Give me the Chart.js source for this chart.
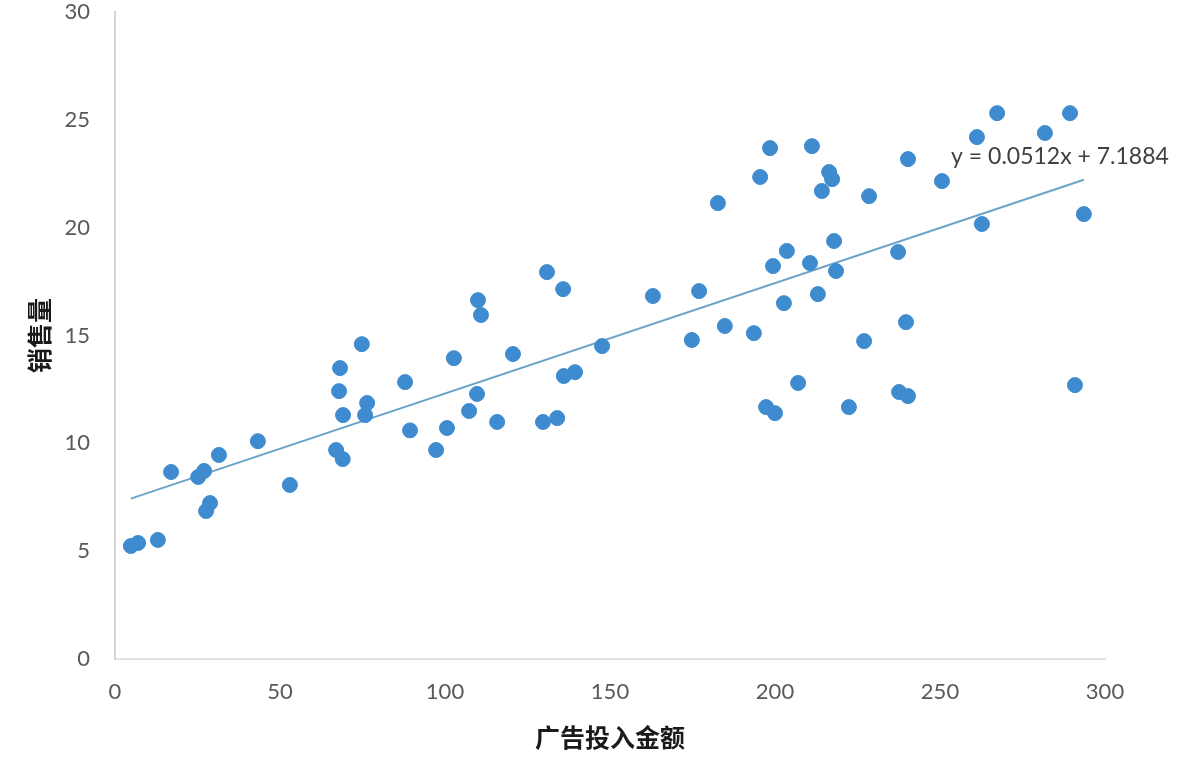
<!DOCTYPE html>
<html>
<head>
<meta charset="utf-8">
<script src="https://cdn.jsdelivr.net/npm/chart.js@4"></script>
<style>
  html, body { margin: 0; padding: 0; background: #fff; }
  #wrap { width: 1179px; height: 768px; }
</style>
</head>
<body>
<div id="wrap"><canvas id="chart" width="1179" height="768"></canvas></div>
<script>
// 广告投入金额 (x) and 销售量 (y)
const adSpend = [4.8, 7, 13, 17, 25.2, 27, 27.6, 28.8, 31.5, 43.3,
  53, 67, 69, 68.2, 67.9, 69.1, 74.8, 76.4, 75.8, 87.9,
  89.4, 97.3, 100.6, 102.7, 107.3, 109.7, 110, 110.9, 115.8, 120.6,
  129.7, 134, 130.9, 135.8, 136, 139.4, 147.6, 163, 177, 174.8,
  182.7, 184.8, 193.6, 195.5, 198.5, 197.3, 200, 199.4, 202.7, 203.6,
  207, 210.6, 211.2, 213, 214.2, 216.4, 217.3, 217.9, 218.5, 222.4,
  227, 228.5, 237.3, 237.6, 240.3, 239.7, 240.3, 250.6, 261.2, 262.7,
  267.3, 281.8, 289.4, 290.9, 293.6];
const sales = [5.24, 5.38, 5.52, 8.67, 8.44, 8.72, 6.86, 7.23, 9.46, 10.1,
  8.07, 9.69, 9.27, 13.49, 12.42, 11.31, 14.6, 11.87, 11.31, 12.84,
  10.6, 9.69, 10.71, 13.95, 11.5, 12.29, 16.64, 15.95, 10.99, 14.14,
  10.99, 11.17, 17.94, 17.15, 13.12, 13.3, 14.51, 16.83, 17.06, 14.79,
  21.14, 15.44, 15.11, 22.35, 23.69, 11.68, 11.4, 18.22, 16.5, 18.92,
  12.8, 18.36, 23.78, 16.92, 21.7, 22.58, 22.25, 19.38, 17.99, 11.68,
  14.74, 21.46, 18.87, 12.38, 12.19, 15.62, 23.18, 22.16, 24.2, 20.17,
  25.31, 24.39, 25.31, 12.7, 20.63];

// linear trendline as printed on the chart
const slope = 0.0512;
const intercept = 7.1884;
const trendLabel = 'y = 0.0512x + 7.1884';

const xTicks = [0, 50, 100, 150, 200, 250, 300];
const yTicks = [0, 5, 10, 15, 20, 25, 30];

const points = adSpend.map((x, i) => ({x: x, y: sales[i]}));
const xMin = Math.min(...adSpend);
const xMax = Math.max(...adSpend);
const trend = [xMin, xMax].map(x => ({x: x, y: slope * x + intercept}));

const tickFont = {family: 'Lato, "Open Sans", sans-serif', size: 22};
const titleFont = {family: '"Noto Sans CJK SC", sans-serif', size: 25, weight: 'bold'};

const trendLabelPlugin = {
  id: 'trendLabel',
  afterDatasetsDraw(chart) {
    const {ctx, scales} = chart;
    const end = trend[trend.length - 1];
    const px = scales.x.getPixelForValue(end.x);
    const py = scales.y.getPixelForValue(end.y);
    ctx.save();
    ctx.font = '23px Lato, "Open Sans", sans-serif';
    ctx.fillStyle = '#404040';
    ctx.textAlign = 'right';
    ctx.textBaseline = 'middle';
    ctx.fillText(trendLabel, px + 85, py - 23);
    ctx.restore();
  }
};

new Chart(document.getElementById('chart'), {
  type: 'scatter',
  data: {
    datasets: [
      {
        label: '销售量',
        data: points,
        backgroundColor: '#3f8bcf',
        borderColor: '#3f8bcf',
        pointRadius: 7.5,
        pointHoverRadius: 7.5,
        order: 1
      },
      {
        type: 'line',
        label: '线性趋势',
        data: trend,
        borderColor: '#6aa3c8',
        borderWidth: 2,
        pointRadius: 0,
        fill: false,
        order: 2
      }
    ]
  },
  options: {
    responsive: false,
    animation: false,
    layout: {padding: {top: 12, right: 74, bottom: 0, left: 0}},
    plugins: {
      legend: {display: false},
      tooltip: {enabled: false}
    },
    scales: {
      x: {
        type: 'linear',
        min: 0,
        max: 300,
        afterBuildTicks: s => { s.ticks = xTicks.map(v => ({value: v})); },
        afterFit: s => { s.height = 109; s.paddingLeft = 0; s.paddingRight = 0; },
        grid: {display: false, drawTicks: false},
        border: {display: true, color: '#e2e2e2', width: 2},
        ticks: {font: tickFont, color: '#595959', padding: 20, maxRotation: 0},
        title: {display: true, text: '广告投入金额', font: titleFont, color: '#1a1a1a', padding: {top: 0, bottom: 16}}
      },
      y: {
        type: 'linear',
        min: 0,
        max: 30,
        afterBuildTicks: s => { s.ticks = yTicks.map(v => ({value: v})); },
        afterFit: s => { s.width = 115; s.paddingTop = 0; s.paddingBottom = 0; },
        grid: {display: false, drawTicks: false},
        border: {display: true, color: '#d4d4d4', width: 2},
        ticks: {font: tickFont, color: '#595959', padding: 25},
        title: {display: true, text: '销售量', font: titleFont, color: '#1a1a1a', padding: {top: 24, bottom: 0}}
      }
    }
  },
  plugins: [trendLabelPlugin]
});
</script>
</body>
</html>
